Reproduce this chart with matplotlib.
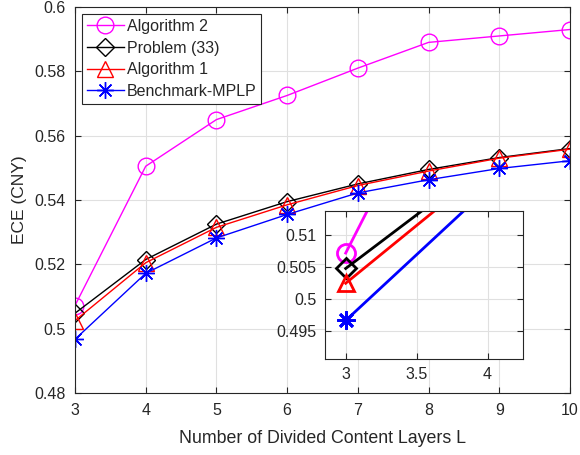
import matplotlib.pyplot as plt

plt.rcParams['font.family'] = ['Liberation Sans', 'DejaVu Sans']
plt.rcParams['text.color'] = '#262626'
plt.rcParams['axes.labelcolor'] = '#262626'
plt.rcParams['xtick.color'] = '#262626'
plt.rcParams['ytick.color'] = '#262626'

layers = [3, 4, 5, 6, 7, 8, 9, 10]
alg2 = [0.5072, 0.5505, 0.5650, 0.5725, 0.5810, 0.5890, 0.5910, 0.5930]
prob33 = [0.5048, 0.5215, 0.5325, 0.5395, 0.5450, 0.5495, 0.5532, 0.5560]
alg1 = [0.5025, 0.5205, 0.5315, 0.5385, 0.5445, 0.5490, 0.5530, 0.5558]
mplp = [0.4967, 0.5172, 0.5282, 0.5355, 0.5422, 0.5463, 0.5498, 0.5522]

series = [
    (alg2, 'Algorithm 2', '#ff00ff', 'o', 12),
    (prob33, 'Problem (33)', 'black', 'D', 9),
    (alg1, 'Algorithm 1', 'red', '^', 11),
    (mplp, 'Benchmark-MPLP', 'blue', '*', 12),
]

# 8-armed asterisk like MATLAB's '*'
STAR = (8, 2, 0)

fig = plt.figure(figsize=(5.8, 4.55), dpi=100)
ax = fig.add_axes([75 / 580, 1 - 393 / 455, 495 / 580, 386 / 455])

for y, lab, c, m, ms in series:
    if m == '*':
        ax.plot(layers, y, color=c, marker=STAR, ms=ms, mew=1,
                lw=1, label=lab)
    else:
        ax.plot(layers, y, color=c, marker=m, ms=ms, mfc='none', mew=1,
                lw=1, label=lab)

ax.set_xlim(3, 10)
ax.set_ylim(0.48, 0.6)
ax.set_xticks(range(3, 11))
ax.set_yticks([0.48, 0.5, 0.52, 0.54, 0.56, 0.58, 0.6])
ax.set_yticklabels(['0.48', '0.5', '0.52', '0.54', '0.56', '0.58', '0.6'])
ax.grid(True, color='#e0e0e0', lw=0.8)
ax.set_axisbelow(True)
ax.tick_params(direction='in', labelsize=11.5, top=True, right=True,
               length=4, pad=7)
for s in ax.spines.values():
    s.set_color('#262626')
ax.set_xlabel('Number of Divided Content Layers L', fontsize=12.8,
              labelpad=9)
ax.set_ylabel('ECE (CNY)', fontsize=12.5, labelpad=5)

leg = ax.legend(loc='upper left', fontsize=11.5, handlelength=2.3,
                handletextpad=0.2, labelspacing=0.42, borderpad=0.3,
                borderaxespad=0, fancybox=False, edgecolor='#262626',
                framealpha=1, bbox_to_anchor=(7 / 495, 1 - 7 / 386))
leg.get_frame().set_linewidth(0.8)

# zoomed view around L = 3
ins = fig.add_axes([325 / 580, 1 - 359 / 455, 198 / 580, 148 / 455])
for y, lab, c, m, ms in series:
    if m == '*':
        ins.plot(layers, y, color=c, marker=STAR, ms=13, mew=2, lw=2)
    else:
        ins.plot(layers, y, color=c, marker=m, ms=ms + 1, mfc='none',
                 mew=2, lw=2)
ins.set_xlim(2.854, 4.25)
ins.set_ylim(0.4907, 0.51375)
ins.set_xticks([3, 3.5, 4])
ins.set_xticklabels(['3', '3.5', '4'])
ins.set_yticks([0.495, 0.5, 0.505, 0.51])
ins.set_yticklabels(['0.495', '0.5', '0.505', '0.51'])
ins.grid(True, color='#e0e0e0', lw=0.8)
ins.set_axisbelow(True)
ins.tick_params(direction='in', labelsize=11.5, top=True, right=True,
                length=4, pad=6)
for s in ins.spines.values():
    s.set_color('#262626')

fig.savefig('out.png', dpi=100)
